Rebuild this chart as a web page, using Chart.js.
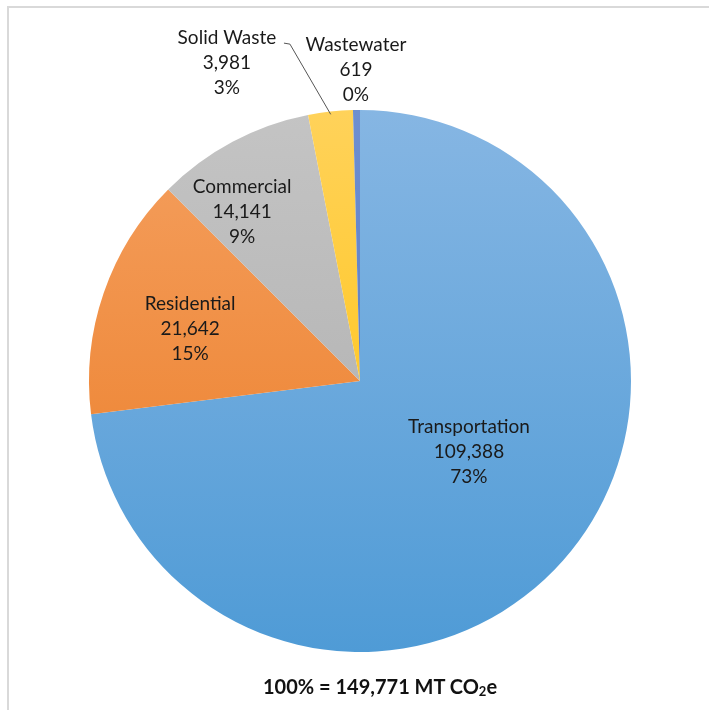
<!DOCTYPE html>
<html>
<head>
<meta charset="utf-8">
<script src="https://cdn.jsdelivr.net/npm/chart.js@4"></script>
<style>
  html, body { margin: 0; padding: 0; background: #fff; }
  body { width: 709px; height: 710px; position: relative; overflow: hidden; font-family: Lato, "Open Sans", sans-serif; }
  #frame { position: absolute; left: 7px; top: 6px; right: 0; bottom: 0; border-left: 2px solid #d9d9d9; border-top: 2px solid #d9d9d9; }
  #wrap { position: absolute; left: 0; top: 0; width: 709px; height: 710px; }
  #total { position: absolute; left: 0; width: 760px; top: 674px; text-align: center; font-weight: bold; font-size: 20px; color: #111; }
</style>
</head>
<body>
<div id="frame"></div>
<div id="wrap"><canvas id="pie"></canvas></div>
<div id="total">100% = 149,771 MT CO<sub style="font-size:13px;vertical-align:-2px">2</sub>e</div>
<script>
// ====================== ДАННЫЕ ======================
const categories = ["Transportation", "Residential", "Commercial", "Solid Waste", "Wastewater"];
const values = [109388, 21642, 14141, 3981, 619];
const percentLabels = ["73%", "15%", "9%", "3%", "0%"];

// цвета (верх -> низ градиента)
const colorsTop = ["#86b6e3", "#f5a060", "#c4c4c4", "#ffd25a", "#6f8fd0"];
const colorsBottom = ["#4f9bd6", "#ea7a22", "#ababab", "#ffc000", "#4a72c0"];

// положение подписей относительно центра, в долях радиуса
const labelOffsets = [[0.402, 0.262], [-0.627, -0.192], [-0.435, -0.624], [-0.491, -1.173], [-0.015, -1.148]];

function fmt(n) { return n.toLocaleString("en-US"); }

const labelPlugin = {
  id: "pieLabels",
  afterDatasetsDraw(chart) {
    const ctx = chart.ctx;
    const meta = chart.getDatasetMeta(0);
    const arc0 = meta.data[0];
    const cx = arc0.x, cy = arc0.y, r = arc0.outerRadius;
    ctx.save();
    ctx.font = "19px Lato, 'Open Sans', sans-serif";
    ctx.fillStyle = "#1a1a1a";
    ctx.textAlign = "center";
    ctx.textBaseline = "middle";
    meta.data.forEach((arc, i) => {
      const x = cx + labelOffsets[i][0] * r;
      const y = cy + labelOffsets[i][1] * r;
      const lines = [categories[i], fmt(values[i]), percentLabels[i]];
      lines.forEach((t, k) => ctx.fillText(t, x, y + (k - 1) * 25));
    });
    // выноска для Solid Waste
    const sw = meta.data[3];
    const mid = (sw.startAngle + sw.endAngle) / 2;
    const ex = cx + Math.cos(mid) * r * 0.99, ey = cy + Math.sin(mid) * r * 0.99;
    const lx = cx + labelOffsets[3][0] * r, ly = cy + labelOffsets[3][1] * r - 20;
    ctx.strokeStyle = "#555";
    ctx.lineWidth = 1;
    ctx.beginPath();
    ctx.moveTo(lx + 57, ly);
    ctx.lineTo(lx + 63, ly + 1);
    ctx.lineTo(ex, ey);
    ctx.stroke();
    ctx.restore();
  }
};

function gradients(chart) {
  const area = chart.chartArea;
  if (!area) return colorsBottom;
  return colorsTop.map((c, i) => {
    const g = chart.ctx.createLinearGradient(0, area.top, 0, area.bottom);
    g.addColorStop(0, c);
    g.addColorStop(1, colorsBottom[i]);
    return g;
  });
}

const chart = new Chart(document.getElementById("pie"), {
  type: "pie",
  data: {
    labels: categories,
    datasets: [{
      data: values,
      backgroundColor: ctx => gradients(ctx.chart)[ctx.dataIndex],
      borderWidth: 0
    }]
  },
  options: {
    responsive: true,
    maintainAspectRatio: false,
    animation: false,
    layout: { padding: { left: 89, right: 78, top: 110, bottom: 58 } },
    plugins: { legend: { display: false }, tooltip: { enabled: false } }
  },
  plugins: [labelPlugin]
});
</script>
</body>
</html>
